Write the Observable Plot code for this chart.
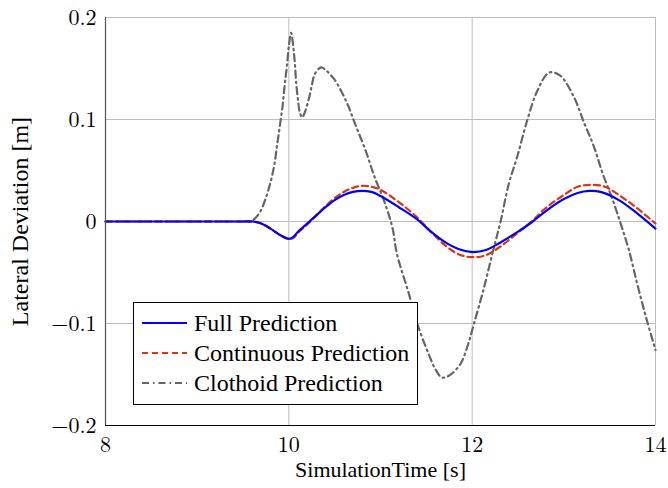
<!DOCTYPE html>
<html>
<head>
<meta charset="utf-8">
<script src="https://cdn.jsdelivr.net/npm/d3@7"></script>
<script src="https://cdn.jsdelivr.net/npm/@observablehq/plot@0.6"></script>
<style>
  html, body { margin: 0; padding: 0; background: #fff; }
  #wrap { position: relative; width: 668px; height: 488px; }
  #legend { position: absolute; left: 133px; top: 302px; width: 283px; height: 101px; border: 1px solid #000; background: #fff; box-sizing: content-box; }
  .row { position: absolute; left: 0; height: 30px; display: flex; align-items: center; font-size: 24px; color: #000; white-space: nowrap; }
  .row svg { margin-left: 8px; margin-right: 7px; }
</style>
</head>
<body>
<div id="wrap"></div>
<script>
// ---- data ----
const xTicks = [8, 10, 12, 14];
const yTicks = [-0.2, -0.1, 0, 0.1, 0.2];
const seriesNames = ["Full Prediction", "Continuous Prediction", "Clothoid Prediction"];

const fullX = [8, 8.5, 9, 9.5, 9.6, 9.7, 9.8, 9.9, 10.0, 10.05, 10.1, 10.2, 10.3, 10.4, 10.5, 10.6, 10.7, 10.8, 10.9, 11.0, 11.2, 11.4, 11.55, 11.7, 11.85, 12.0, 12.15, 12.3, 12.5, 12.66, 12.8, 13.0, 13.15, 13.28, 13.4, 13.6, 13.8, 14.0];
const fullY = [0, 0, 0, 0, 0, -0.002, -0.007, -0.013, -0.017, -0.015, -0.010, -0.002, 0.006, 0.014, 0.021, 0.026, 0.029, 0.030, 0.029, 0.025, 0.014, 0.002, -0.010, -0.020, -0.027, -0.030, -0.028, -0.021, -0.010, 0.000, 0.010, 0.022, 0.028, 0.030, 0.029, 0.021, 0.008, -0.007];

const contX = [8, 8.5, 9, 9.5, 9.6, 9.7, 9.8, 9.9, 10.0, 10.05, 10.1, 10.2, 10.3, 10.4, 10.5, 10.6, 10.7, 10.8, 10.9, 11.0, 11.2, 11.4, 11.55, 11.7, 11.85, 12.0, 12.15, 12.3, 12.5, 12.65, 12.8, 13.0, 13.15, 13.3, 13.45, 13.6, 13.8, 14.0];
const contY = [0, 0, 0, 0, 0, -0.002, -0.007, -0.013, -0.017, -0.016, -0.011, -0.003, 0.006, 0.015, 0.023, 0.029, 0.033, 0.035, 0.034, 0.031, 0.019, 0.004, -0.010, -0.023, -0.032, -0.035, -0.033, -0.025, -0.011, 0.000, 0.013, 0.026, 0.034, 0.036, 0.034, 0.026, 0.013, -0.002];

const clothX = [8, 8.5, 9, 9.5, 9.58, 9.62, 9.69, 9.745, 9.79, 9.825, 9.85, 9.87, 9.89, 9.91, 9.93, 9.945, 9.96, 9.98, 10.0, 10.025, 10.05, 10.065, 10.08, 10.1, 10.12, 10.145, 10.17, 10.22, 10.25, 10.28, 10.33, 10.36, 10.49, 10.63, 10.73, 10.84, 10.93, 11.04, 11.13, 11.18, 11.31, 11.4, 11.53, 11.6, 11.67, 11.75, 11.87, 11.95, 12.02, 12.12, 12.23, 12.31, 12.4, 12.49, 12.6, 12.71, 12.84, 12.96, 13.11, 13.22, 13.33, 13.42, 13.53, 13.62, 13.71, 13.8, 13.9, 14.0];
const clothY = [0, 0, 0, 0, 0, 0.002, 0.010, 0.022, 0.035, 0.048, 0.060, 0.074, 0.086, 0.099, 0.112, 0.125, 0.138, 0.153, 0.172, 0.185, 0.170, 0.156, 0.136, 0.119, 0.107, 0.102, 0.106, 0.121, 0.133, 0.144, 0.150, 0.151, 0.140, 0.117, 0.094, 0.069, 0.045, 0.020, -0.006, -0.032, -0.071, -0.100, -0.131, -0.145, -0.153, -0.151, -0.140, -0.122, -0.100, -0.068, -0.028, 0.000, 0.037, 0.063, 0.099, 0.128, 0.146, 0.143, 0.122, 0.097, 0.073, 0.048, 0.022, -0.002, -0.028, -0.061, -0.095, -0.126];

const colors = ["#0000ff", "#dd3311", "#666666"];
const dashes = [null, "6,4", "7,4,1.5,4"];

const toRows = (xs, ys, s) => xs.map((x, i) => ({x, y: ys[i], s}));
const full = toRows(fullX, fullY, seriesNames[0]);
const cont = toRows(contX, contY, seriesNames[1]);
const cloth = toRows(clothX, clothY, seriesNames[2]);

const fmtY = d => d === 0 ? "0" : (d < 0 ? "\u2212" : "") + Math.abs(d).toFixed(1);
const serif = "\"Liberation Serif\", cursive";
const mathFont = "\"Latin Modern Roman\", \"Liberation Serif\", cursive";

const chart = Plot.plot({
  width: 668,
  height: 488,
  marginLeft: 105,
  marginRight: 13,
  marginTop: 17,
  marginBottom: 63,
  style: {fontSize: "22px", background: "#fff", color: "#000"},
  x: {domain: [8, 14]},
  y: {domain: [-0.2, 0.2]},
  marks: [
    Plot.gridX(xTicks, {stroke: "#bdbdbd", strokeOpacity: 1, strokeWidth: 1}),
    Plot.gridY(yTicks, {stroke: "#bdbdbd", strokeOpacity: 1, strokeWidth: 1}),
    Plot.axisX(xTicks, {tickSize: 0, tickPadding: 11, tickFormat: d => String(d), fontSize: 22, fontFamily: mathFont, label: null}),
    Plot.axisY(yTicks, {tickSize: 0, tickPadding: 9, tickFormat: fmtY, fontSize: 22, fontFamily: mathFont, label: null}),
    Plot.axisX({ticks: [], tickSize: 0, fontSize: 22, fontFamily: serif, label: "SimulationTime [s]", labelAnchor: "center", labelArrow: "none", labelOffset: 51}),
    Plot.axisY({ticks: [], tickSize: 0, fontSize: 24, fontFamily: serif, label: "Lateral Deviation [m]", labelAnchor: "center", labelArrow: "none", labelOffset: 95}),
    Plot.line(cloth, {x: "x", y: "y", stroke: colors[2], strokeWidth: 2.2, strokeDasharray: dashes[2], curve: "catmull-rom"}),
    Plot.line(cont, {x: "x", y: "y", stroke: colors[1], strokeWidth: 2.2, strokeDasharray: dashes[1], curve: "catmull-rom"}),
    Plot.line(full, {x: "x", y: "y", stroke: colors[0], strokeWidth: 2.2, curve: "catmull-rom"}),
    Plot.ruleX([xTicks[0]], {stroke: "#555", strokeWidth: 1.2}),
    Plot.ruleY([yTicks[0]], {stroke: "#000", strokeWidth: 1.2})
  ]
});

const wrap = document.getElementById("wrap");
wrap.style.fontFamily = serif;
wrap.appendChild(chart);

// legend
const legend = document.createElement("div");
legend.id = "legend";
seriesNames.forEach((name, i) => {
  const row = document.createElement("div");
  row.className = "row";
  row.style.top = (5 + i * 30) + "px";
  row.style.fontFamily = serif;
  const dash = dashes[i] ? ` stroke-dasharray="${dashes[i]}"` : "";
  row.innerHTML = `<svg width="45" height="10"><line x1="0" y1="5" x2="45" y2="5" stroke="${colors[i]}" stroke-width="2.2"${dash}/></svg><span>${name}</span>`;
  legend.appendChild(row);
});
wrap.appendChild(legend);
</script>
</body>
</html>
